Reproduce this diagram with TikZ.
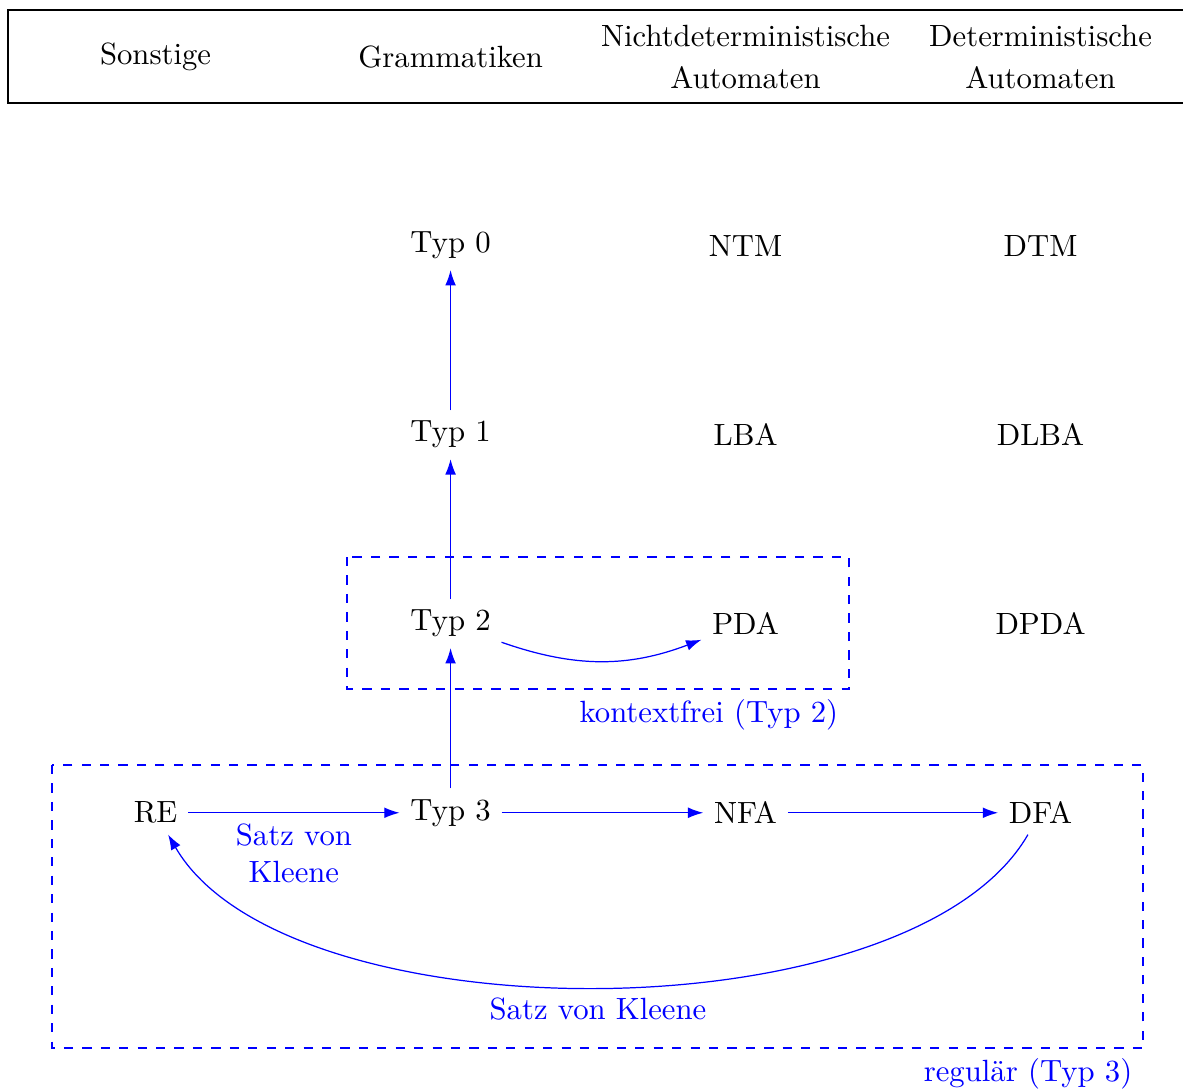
\documentclass[tikz,border=0pt]{standalone}
\usetikzlibrary{arrows.meta}
\usetikzlibrary{calc}
\colorlet{relation}{blue}

\begin{document}
\begin{tikzpicture}[
        rel/.style={draw=relation, -{Latex[length=5pt,width=3.5pt]}},
        area/.style={draw=relation, dashed},
        arealabel/.style={text=relation, anchor=north east},
        relabel/.style={text=relation, align=center},
    ]
        \useasboundingbox (0,0) rectangle (13.535,-12.483);
        % Kopfzeile
        \draw (13.535,-0.114) -- (0.092,-0.114) -- (0.092,-1.178) -- (13.535,-1.178);
        \node (sonst) at (1.78,-0.652) {Sonstige};
        \node (gram) at (5.155,-0.652) {Grammatiken};
        \node[align=center] (ndet) at (8.53,-0.652) {Nichtdeterministische\\[1.4pt]Automaten};
        \node[align=center] (det) at (11.905,-0.652) {Deterministische\\[1.4pt]Automaten};
        % Hierarchie
        \foreach \y/\g [count=\i from 0] in {-2.811/typ0, -4.974/typ1, -7.136/typ2}
        {
            \node (\g) at (5.155,\y) {Typ \i};
        }
        \node (ntm) at (8.53,-2.811) {NTM};
        \node (dtm) at (11.905,-2.811) {DTM};
        \node (lba) at (8.53,-4.974) {LBA};
        \node (dlba) at (11.905,-4.974) {DLBA};
        \node (pda) at (8.53,-7.136) {PDA};
        \node (dpda) at (11.905,-7.136) {DPDA};
        \node (re) at (1.78,-9.299) {RE};
        \node (typ3) at (5.155,-9.299) {Typ 3};
        \node (nfa) at (8.53,-9.299) {NFA};
        \node (dfa) at (11.905,-9.299) {DFA};
        % Bereiche
        \draw[area] (3.970,-6.373) rectangle (9.714,-7.883);
        \node[arealabel] (kf) at (9.714,-7.883) {kontextfrei (Typ 2)};
        \draw[area] (0.595,-8.753) rectangle (13.078,-11.991);
        \node[arealabel] (reg) at (13.078,-11.991) {regulär (Typ 3)};
        % Beziehungen
        \draw[rel] (typ3) -- (typ2);
        \draw[rel] (typ2) -- (typ1);
        \draw[rel] (typ1) -- (typ0);
        \draw[rel] (typ2) to[bend right=20] (pda);
        \draw[rel] (re) -- node[below, relabel] (kleeneA) {Satz von\\Kleene} (typ3);
        \draw[rel] (typ3) -- (nfa);
        \draw[rel] (nfa) -- (dfa);
        \draw[rel] (dfa) to[bend left=60, looseness=0.7] node[below, relabel] (kleeneB) {Satz von Kleene} (re);
    \end{tikzpicture}
\end{document}
